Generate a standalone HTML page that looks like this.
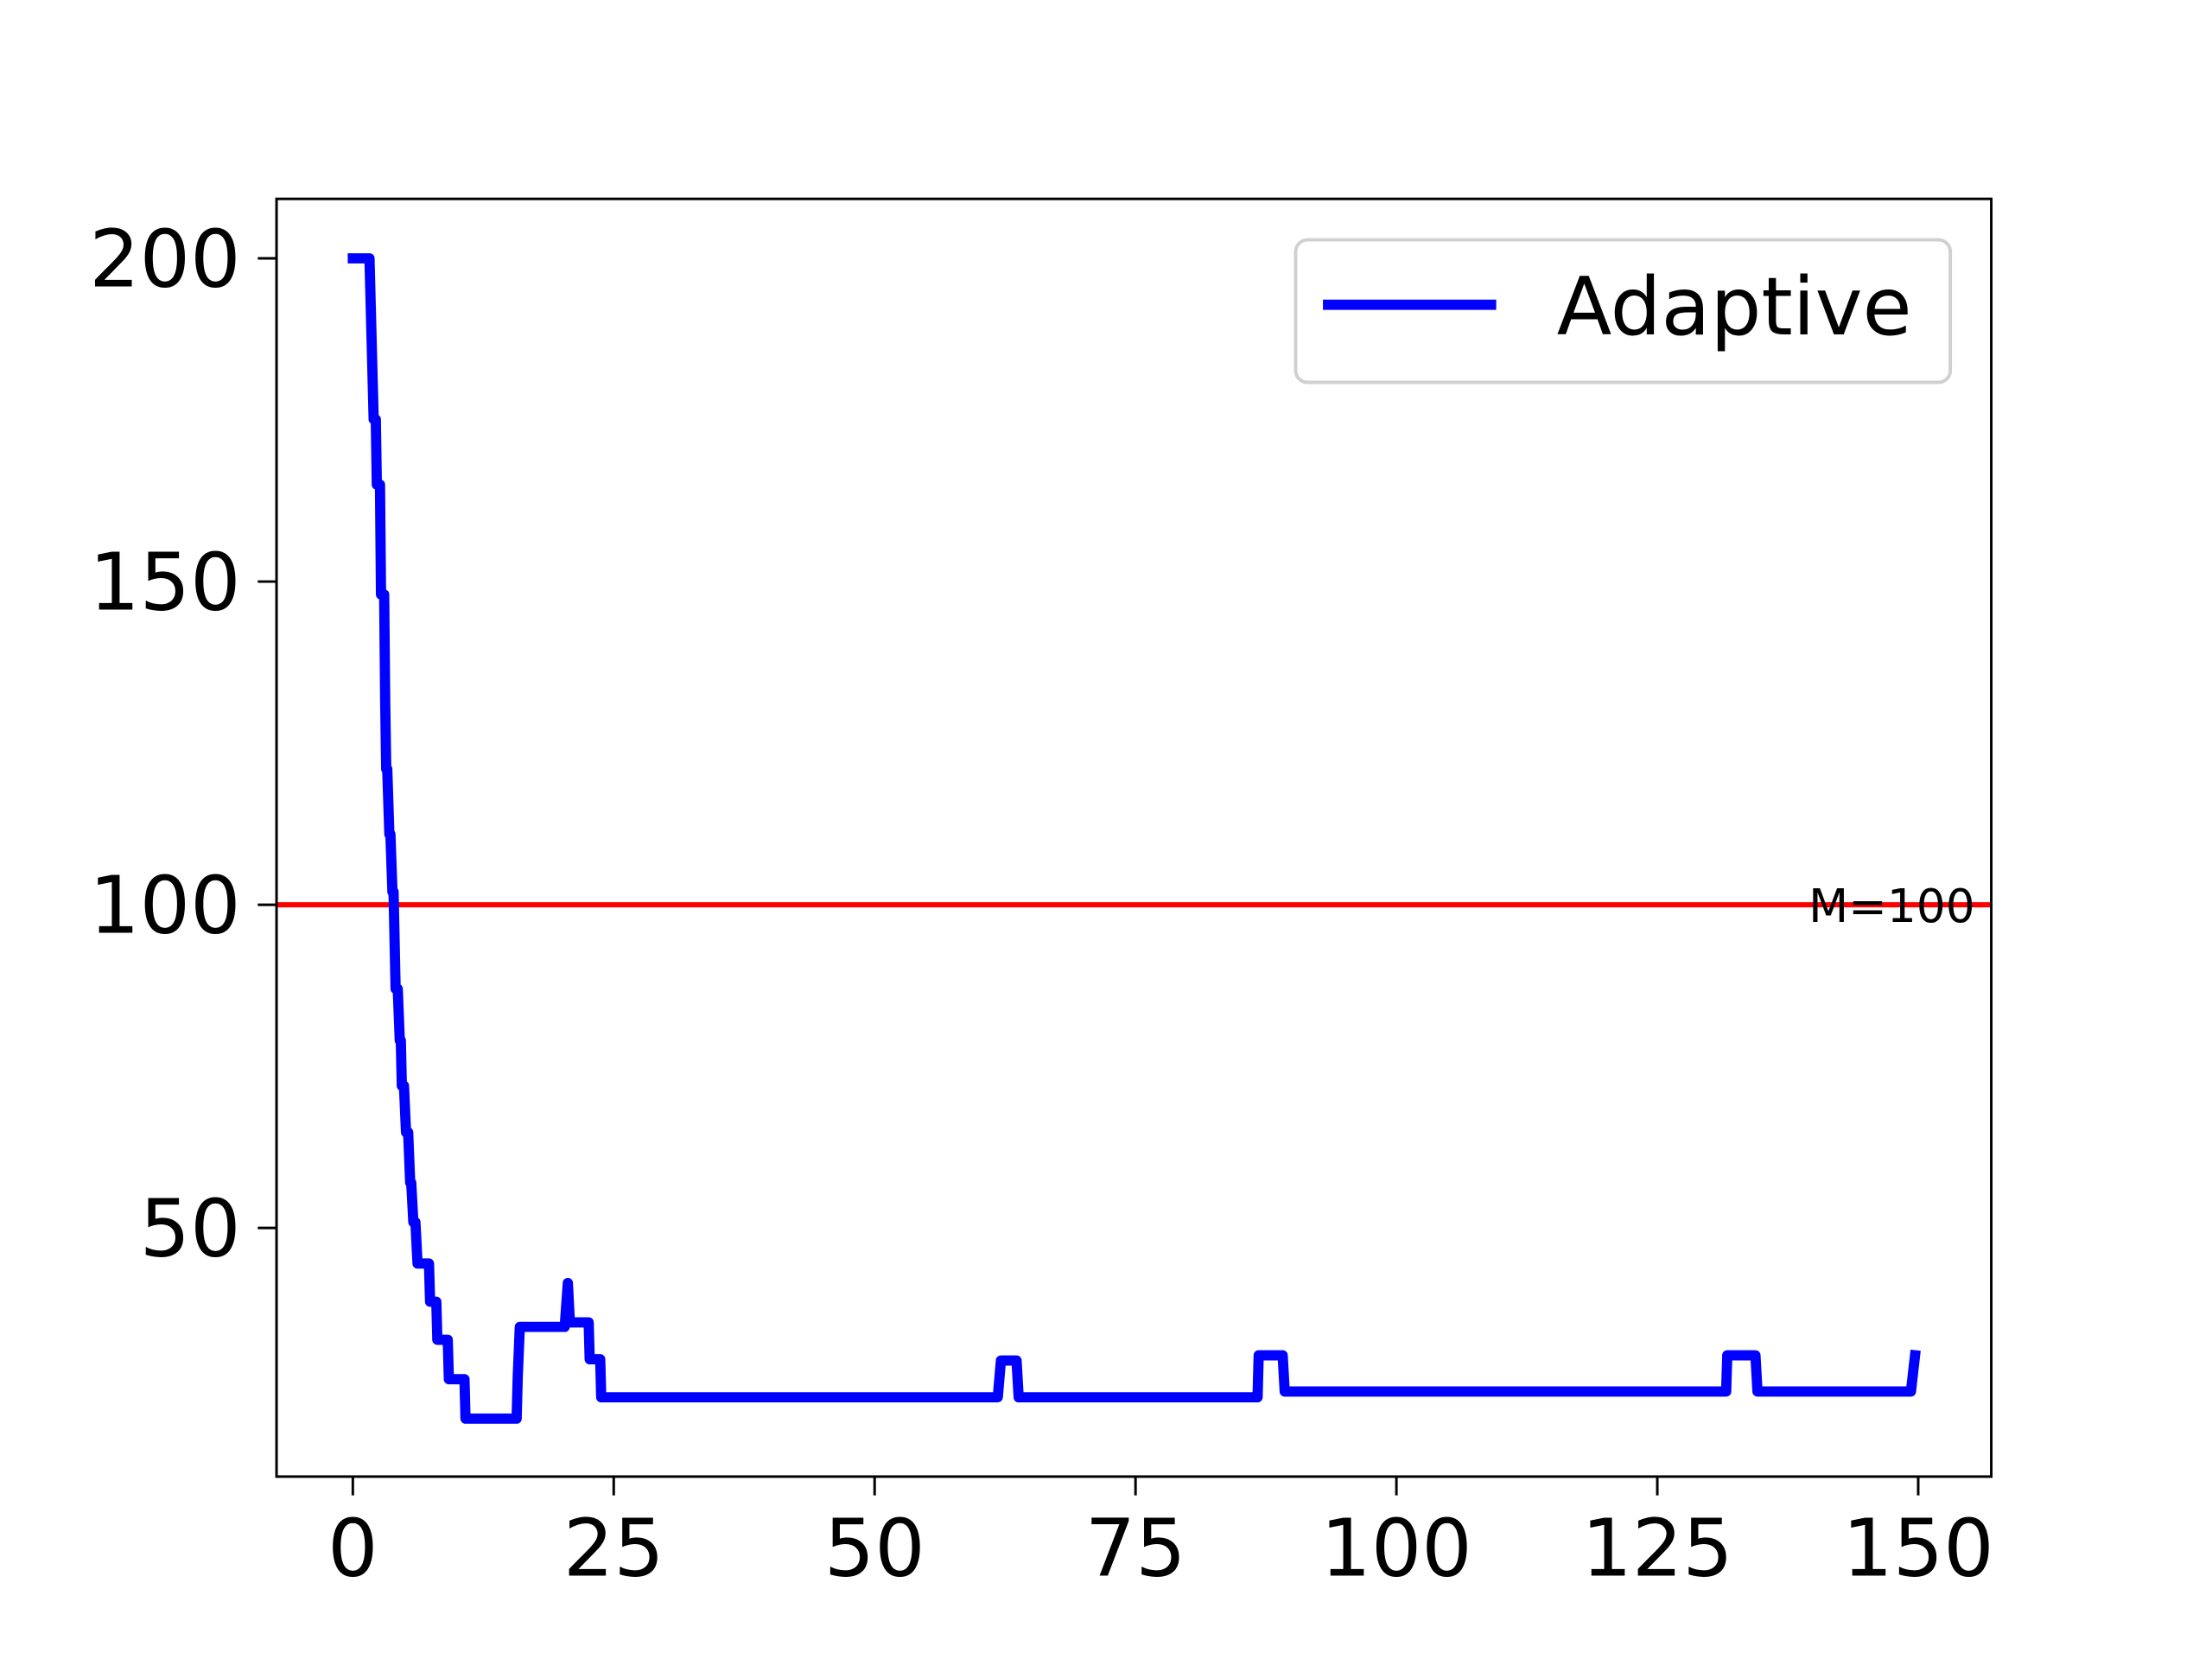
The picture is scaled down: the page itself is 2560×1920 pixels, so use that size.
<!DOCTYPE html>
<html><head><meta charset="utf-8"><style>
html,body{margin:0;padding:0;background:#fff;}
svg{display:block;font-family:"DejaVu Sans","Liberation Sans",sans-serif;}
</style></head><body>
<svg id="chart" width="2560" height="1920" viewBox="0 0 2560 1920" xmlns="http://www.w3.org/2000/svg">
<rect width="2560" height="1920" fill="#fff"/>
<g id="plot" transform="scale(0.9878)"></g>
</svg>
<script>
const xs = [0,1.6,2.0,2.2,2.3,2.6,2.7,3.0,3.1,3.2,3.3,3.5,3.6,3.8,3.9,4.1,4.3,4.5,4.6,4.7,4.9,5.1,5.3,5.5,5.6,5.8,6.0,6.2,7.3,7.4,8.0,8.1,9.1,9.2,10.7,10.8,15.7,15.8,16.0,20.3,20.6,20.8,22.6,22.7,23.7,23.8,61.8,62.1,63.6,63.8,86.7,86.8,89.1,89.3,131.6,131.7,134.4,134.6,149.3,149.7];
const ys = [200,200,175.1,175.1,165,165,148,148,131.4,121,121,110.9,110.9,102,102,87,87,79,79,72,72,64.8,64.8,57,57,50.9,50.9,44.5,44.5,38.6,38.6,32.7,32.7,26.6,26.6,20.5,20.5,27,34.7,34.7,41.5,35.4,35.4,29.7,29.7,23.8,23.8,29.5,29.5,23.8,23.8,30.3,30.3,24.7,24.7,30.3,30.3,24.7,24.7,30.3];
const xTicks = [0,25,50,75,100,125,150];
const yTicks = [50,100,150,200];
const thresholdValue = 100;
const thresholdLabel = "M=100";
const seriesName = "Adaptive";

const L=324,R=2333,T=233,B=1730;
const XMIN=-7.31,XMAX=157.0,YMIN=11.54,YMAX=209.2;
const sx=v=>L+(v-XMIN)/(XMAX-XMIN)*(R-L);
const sy=v=>B-(v-YMIN)/(YMAX-YMIN)*(B-T);
const NS="http://www.w3.org/2000/svg";
const g=document.getElementById('plot');
function mk(tag,attrs,parent){const e=document.createElementNS(NS,tag);for(const k in attrs)e.setAttribute(k,attrs[k]);(parent||g).appendChild(e);return e;}

let th=mk('line',{x1:L,x2:R,y1:sy(thresholdValue),y2:sy(thresholdValue),stroke:'#ff0000','stroke-width':6});



let d=xs.map((x,i)=>(i?'L':'M')+sx(x).toFixed(1)+','+sy(ys[i]).toFixed(1)).join(' ');
let ln=mk('path',{d:d,fill:'none',stroke:'#0000ff','stroke-width':12,'stroke-linejoin':'round','stroke-linecap':'square'});



let tl=mk('text',{x:sx(139.5),y:sy(thresholdValue)+20,'font-size':54,fill:'#000'});
tl.textContent=thresholdLabel;



let sp=mk('rect',{x:L,y:T,width:R-L,height:B-T,fill:'none',stroke:'#000','stroke-width':3});



xTicks.forEach(v=>{
  let t=mk('line',{x1:sx(v),x2:sx(v),y1:B,y2:B+22,stroke:'#000','stroke-width':3});
  
  
  let tx=mk('text',{x:sx(v),y:1846,'font-size':93,'text-anchor':'middle',fill:'#000'});
  tx.textContent=v;
  
  
});
yTicks.forEach(v=>{
  let t=mk('line',{x1:L-22,x2:L,y1:sy(v),y2:sy(v),stroke:'#000','stroke-width':3});
  
  
  let tx=mk('text',{x:282,y:sy(v)+33,'font-size':93,'text-anchor':'end',fill:'#000'});
  tx.textContent=v;
  
  
});

let lg=mk('g',{});


mk('rect',{x:1518,y:281,width:767,height:167,rx:14,fill:'#fff','fill-opacity':0.8,stroke:'#d0d0d0','stroke-width':4},lg);
let ll=mk('line',{x1:1550,x2:1753,y1:357,y2:357,stroke:'#0000ff','stroke-width':12},lg);


let lt=mk('text',{x:1824,y:392,'font-size':94,fill:'#000'},lg);
lt.textContent=seriesName;


</script>
</body></html>
